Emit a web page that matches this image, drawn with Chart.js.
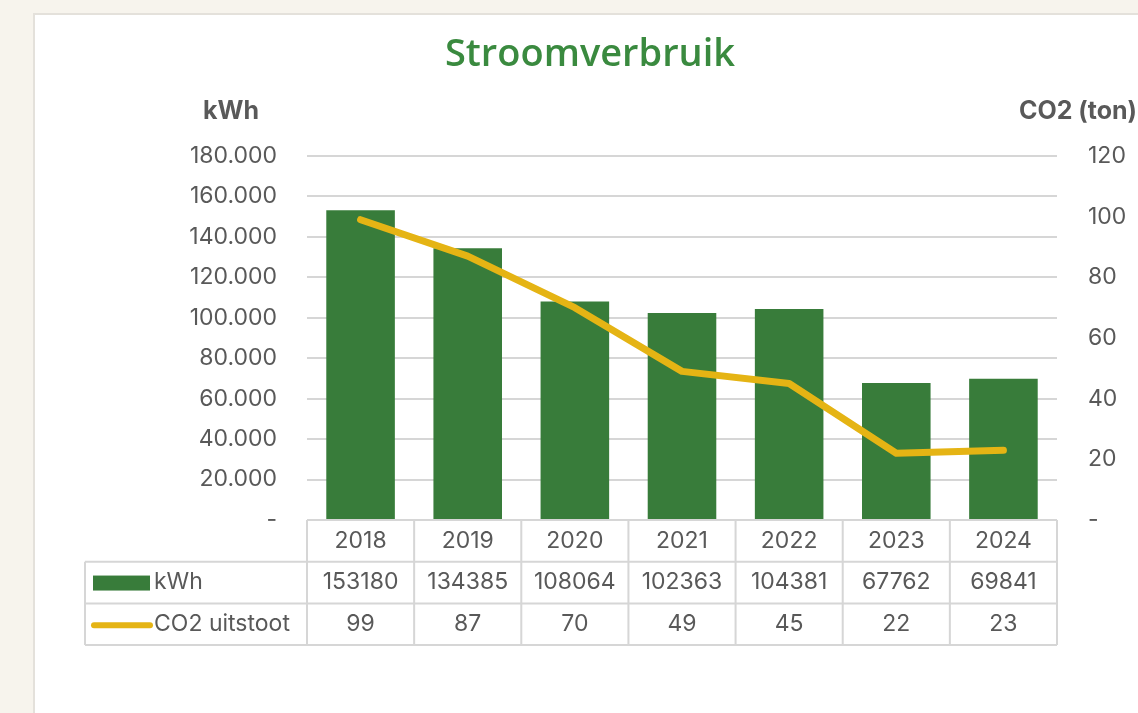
<!DOCTYPE html>
<html lang="nl">
<head>
  <meta charset="UTF-8">
  <title>Stroomverbruik</title>
  <script src="https://cdn.jsdelivr.net/npm/chart.js"></script>
  <style>
    html, body {
      margin: 0;
      padding: 0;
      background-color: #f7f4ed;
      overflow: hidden;
    }
    .wrap {
      position: relative;
      width: 1138px;
      height: 713px;
    }
    .card {
      position: absolute;
      left: 33px;
      top: 13px;
      width: 1120px;
      height: 720px;
      background: #ffffff;
      border: 2px solid #e4e1db;
      box-sizing: border-box;
    }
    #chart {
      position: absolute;
      left: 0;
      top: 0;
    }
  </style>
</head>
<body>
<div class="wrap">
  <div class="card"></div>
  <canvas id="chart" width="1138" height="713"></canvas>
</div>

<script>
  // data
  const years = ['2018', '2019', '2020', '2021', '2022', '2023', '2024'];
  const kwh = [153180, 134385, 108064, 102363, 104381, 67762, 69841];
  const co2 = [99, 87, 70, 49, 45, 22, 23];
  const kwhMax = 180000;
  const kwhStep = 20000;
  const co2Max = 120;
  const co2Step = 20;

  const green = '#387c3a';
  const gold = '#e5b414';
  const textGrey = '#595959';
  const lineGrey = '#d6d6d6';
  const font = 'Inter, "Liberation Sans", sans-serif';
  const textSize = 23;

  // 180000 -> "180.000", 0 -> "-"
  function dotted(v) {
    if (v === 0) return '-';
    return String(v).replace(/\B(?=(\d{3})+(?!\d))/g, '.');
  }

  // title, axis titles and the data table under the plot
  const extrasPlugin = {
    id: 'extras',
    afterDraw(chart) {
      const ctx = chart.ctx;
      const area = chart.chartArea;
      const x = chart.scales.x;
      const step = x.width / years.length;
      const rowH = 41.7;
      const top = area.bottom;
      const legendLeft = 85;

      ctx.save();

      // title
      ctx.fillStyle = '#3a8a3f';
      ctx.font = '600 38px "Open Sans", sans-serif';
      ctx.textAlign = 'center';
      ctx.textBaseline = 'middle';
      ctx.fillText('Stroomverbruik', 590, 55);

      // axis titles
      ctx.fillStyle = textGrey;
      ctx.font = 'bold 25px ' + font;
      ctx.fillText('kWh', 231, 111);
      ctx.textAlign = 'right';
      ctx.fillText('CO2 (ton)', 1137, 111);

      // table grid
      ctx.strokeStyle = lineGrey;
      ctx.lineWidth = 2;
      ctx.beginPath();
      ctx.moveTo(area.left, top);
      ctx.lineTo(area.right, top);
      for (let r = 1; r <= 3; r++) {
        ctx.moveTo(legendLeft, top + r * rowH);
        ctx.lineTo(area.right, top + r * rowH);
      }
      for (let i = 0; i <= years.length; i++) {
        const cx = x.left + i * step;
        ctx.moveTo(cx, top);
        ctx.lineTo(cx, top + 3 * rowH);
      }
      ctx.moveTo(legendLeft, top + rowH);
      ctx.lineTo(legendLeft, top + 3 * rowH);
      ctx.stroke();

      // legend cells
      const r1 = top + rowH * 1.5;
      const r2 = top + rowH * 2.5;
      ctx.fillStyle = green;
      ctx.fillRect(93, r1 - 7, 57, 15);
      ctx.strokeStyle = gold;
      ctx.lineWidth = 6;
      ctx.lineCap = 'round';
      ctx.beginPath();
      ctx.moveTo(94, r2 + 1);
      ctx.lineTo(150, r2 + 1);
      ctx.stroke();

      ctx.fillStyle = textGrey;
      ctx.font = textSize + 'px ' + font;
      ctx.textAlign = 'left';
      ctx.fillText(chart.data.datasets[0].label, 154, r1);
      ctx.fillText(chart.data.datasets[1].label, 154, r2);

      // values
      ctx.textAlign = 'center';
      const barData = chart.data.datasets[0].data;
      const lineData = chart.data.datasets[1].data;
      for (let i = 0; i < years.length; i++) {
        const cx = x.getPixelForValue(i);
        ctx.fillText(String(barData[i]), cx, r1);
        ctx.fillText(String(lineData[i]), cx, r2);
      }
      ctx.restore();
    }
  };

  window.onload = function() {
    const ctx = document.getElementById('chart').getContext('2d');

    new Chart(ctx, {
      type: 'bar',
      data: {
        labels: years,
        datasets: [
          {
            label: 'kWh',
            data: kwh,
            backgroundColor: green,
            yAxisID: 'y',
            order: 1,
            barPercentage: 0.64,
            categoryPercentage: 1
          },
          {
            label: 'CO2 uitstoot',
            data: co2,
            type: 'line',
            borderColor: gold,
            borderWidth: 7,
            borderCapStyle: 'round',
            borderJoinStyle: 'round',
            pointRadius: 0,
            tension: 0,
            yAxisID: 'y1',
            order: 0
          }
        ]
      },
      options: {
        responsive: false,
        animation: false,
        layout: {
          padding: { top: 156, bottom: 68, left: 0, right: 0 }
        },
        plugins: {
          legend: { display: false },
          title: { display: false },
          tooltip: { enabled: false }
        },
        scales: {
          x: {
            grid: { display: false, drawTicks: false },
            border: { display: false },
            ticks: {
              color: textGrey,
              font: { family: font, size: textSize },
              padding: 7
            },
            afterFit(scale) { scale.height = 125; }
          },
          y: {
            position: 'left',
            min: 0,
            max: kwhMax,
            grid: { color: lineGrey, lineWidth: 2, drawTicks: false },
            border: { display: false },
            ticks: {
              stepSize: kwhStep,
              color: textGrey,
              font: { family: font, size: textSize },
              padding: 30,
              callback: v => dotted(v)
            },
            afterFit(scale) { scale.width = 307; }
          },
          y1: {
            position: 'right',
            min: 0,
            max: co2Max,
            grid: { drawOnChartArea: false, drawTicks: false },
            border: { display: false },
            ticks: {
              stepSize: co2Step,
              color: textGrey,
              font: { family: font, size: textSize },
              padding: 31,
              callback: v => v === 0 ? '-' : v
            },
            afterFit(scale) { scale.width = 81; }
          }
        }
      },
      plugins: [extrasPlugin]
    });
  };
</script>
</body>
</html>
